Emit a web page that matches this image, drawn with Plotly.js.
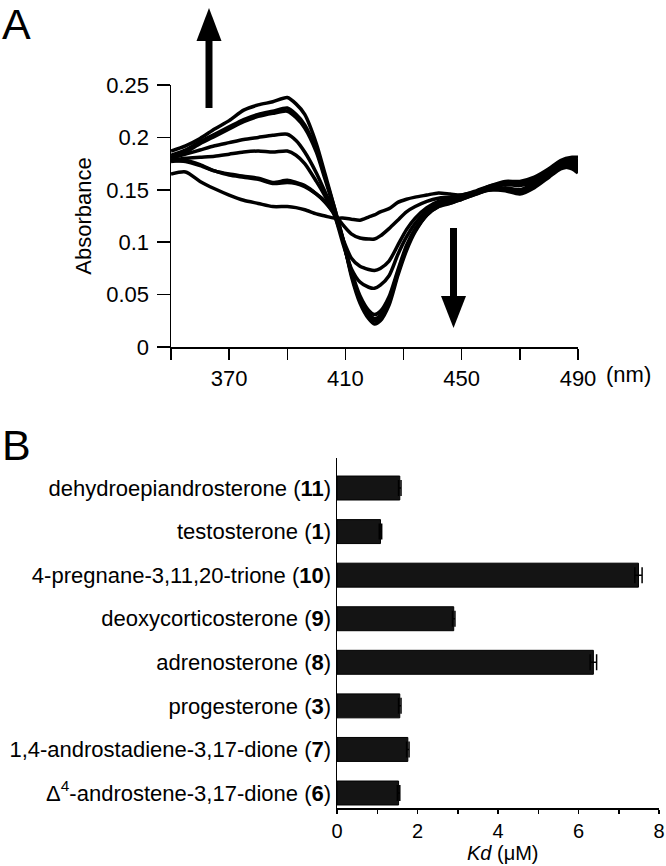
<!DOCTYPE html>
<html>
<head>
<meta charset="utf-8">
<script src="https://cdn.plot.ly/plotly-3.0.1.min.js"></script>
<style>html,body{margin:0;padding:0;background:#fff;}#chart{width:666px;height:866px;}</style>
</head>
<body>
<div id="chart"></div>
<script>
// ---- Panel A: absorbance difference spectra ----
var wavelengths = [350,355,360,365,370,375,380,385,390,393,396,400,403,406,409,412,415,418,420,422,425,428,431,434,438,442,446,450,455,460,465,470,475,480,484,488,490];

var spectrum1 = [0.187,0.192,0.199,0.208,0.216,0.226,0.231,0.234,0.238,0.232,0.222,0.194,0.165,0.135,0.105,0.068,0.042,0.027,0.022,0.025,0.040,0.068,0.092,0.110,0.126,0.135,0.139,0.143,0.148,0.154,0.158,0.158,0.162,0.170,0.178,0.181,0.181];
var spectrum2 = [0.183,0.188,0.196,0.203,0.210,0.217,0.222,0.225,0.228,0.222,0.212,0.188,0.162,0.135,0.104,0.070,0.044,0.030,0.025,0.028,0.043,0.070,0.094,0.111,0.126,0.134,0.138,0.142,0.147,0.153,0.157,0.157,0.161,0.169,0.177,0.179,0.178];
var spectrum3 = [0.181,0.186,0.194,0.201,0.208,0.215,0.220,0.223,0.225,0.219,0.209,0.186,0.160,0.133,0.103,0.071,0.046,0.032,0.027,0.030,0.045,0.071,0.095,0.112,0.126,0.134,0.137,0.141,0.146,0.152,0.156,0.156,0.160,0.168,0.176,0.178,0.176];
var spectrum4 = [0.180,0.184,0.188,0.192,0.195,0.198,0.200,0.202,0.203,0.197,0.186,0.166,0.148,0.130,0.104,0.073,0.049,0.035,0.031,0.034,0.048,0.073,0.097,0.113,0.127,0.135,0.137,0.141,0.146,0.151,0.155,0.154,0.158,0.167,0.175,0.177,0.174];
var spectrum5 = [0.178,0.180,0.181,0.182,0.184,0.186,0.187,0.186,0.187,0.183,0.175,0.158,0.144,0.128,0.100,0.075,0.062,0.057,0.056,0.059,0.068,0.088,0.105,0.118,0.130,0.137,0.140,0.143,0.147,0.150,0.152,0.150,0.156,0.165,0.174,0.176,0.172];
var spectrum6 = [0.177,0.178,0.174,0.168,0.165,0.163,0.161,0.157,0.159,0.157,0.154,0.146,0.138,0.127,0.104,0.085,0.077,0.074,0.073,0.075,0.082,0.097,0.112,0.123,0.133,0.139,0.141,0.144,0.148,0.150,0.150,0.148,0.154,0.164,0.172,0.174,0.170];
var spectrum7 = [0.178,0.177,0.173,0.168,0.164,0.162,0.160,0.156,0.157,0.156,0.153,0.146,0.139,0.128,0.117,0.108,0.104,0.103,0.103,0.106,0.113,0.121,0.129,0.134,0.139,0.142,0.143,0.145,0.148,0.150,0.149,0.146,0.152,0.162,0.170,0.172,0.168];
var spectrum8 = [0.165,0.167,0.158,0.151,0.145,0.140,0.137,0.134,0.134,0.133,0.131,0.127,0.125,0.123,0.123,0.122,0.121,0.124,0.126,0.129,0.132,0.138,0.141,0.143,0.145,0.147,0.146,0.145,0.149,0.154,0.156,0.155,0.158,0.165,0.172,0.170,0.166];

var spectra = [spectrum1,spectrum2,spectrum3,spectrum4,spectrum5,spectrum6,spectrum7,spectrum8];

// ---- Panel B: dissociation constants ----
var compounds = [
  'Δ<sup>4</sup>-androstene-3,17-dione (<b>6</b>)',
  '1,4-androstadiene-3,17-dione (<b>7</b>)',
  'progesterone (<b>3</b>)',
  'adrenosterone (<b>8</b>)',
  'deoxycorticosterone (<b>9</b>)',
  '4-pregnane-3,11,20-trione (<b>10</b>)',
  'testosterone (<b>1</b>)',
  'dehydroepiandrosterone (<b>11</b>)'
];
var kdValues = [1.53,1.76,1.56,6.37,2.90,7.49,1.08,1.56];
var kdErrors = [0.03,0.03,0.03,0.08,0.03,0.09,0.03,0.03];

// ---- build ----
var W = 666, H = 866;
function px(x){ return x / W; }
function py(y){ return 1 - y / H; }

var FONT = 'Liberation Sans, Arial, Helvetica, sans-serif';
var FS = 22;
var traces = [];
spectra.forEach(function(s){
  traces.push({
    x: wavelengths, y: s, type: 'scatter', mode: 'lines',
    line: {color: '#000', width: 3.5, shape: 'spline', smoothing: 0.7},
    xaxis: 'x', yaxis: 'y', hoverinfo: 'skip', showlegend: false
  });
});
traces.push({
  type: 'bar', orientation: 'h', x: kdValues, y: compounds,
  xaxis: 'x2', yaxis: 'y2', width: 0.55,
  marker: {color: '#141414', line: {color: '#000', width: 1}},
  error_x: {type: 'data', array: kdErrors, visible: true, color: '#000', thickness: 1.5, width: 8},
  showlegend: false
});

var arrowUp = {shaftX: 209, shaftTop: 40, shaftBottom: 108, tip: 8, half: 12.5};
var arrowDown = {shaftX: 453.5, shaftTop: 228, shaftBottom: 297, tip: 328, half: 12.5};

var shapes = [
  {type: 'rect', xref: 'paper', yref: 'paper', x0: px(arrowUp.shaftX-3.5), x1: px(arrowUp.shaftX+3.5), y0: py(arrowUp.shaftBottom), y1: py(arrowUp.shaftTop), fillcolor: '#000', line: {width: 0}},
  {type: 'path', xref: 'paper', yref: 'paper',
   path: 'M' + px(arrowUp.shaftX-arrowUp.half) + ',' + py(arrowUp.shaftTop+1) + ' L' + px(arrowUp.shaftX+arrowUp.half) + ',' + py(arrowUp.shaftTop+1) + ' L' + px(arrowUp.shaftX) + ',' + py(arrowUp.tip) + ' Z',
   fillcolor: '#000', line: {width: 0}},
  {type: 'rect', xref: 'paper', yref: 'paper', x0: px(arrowDown.shaftX-3.5), x1: px(arrowDown.shaftX+3.5), y0: py(arrowDown.shaftBottom), y1: py(arrowDown.shaftTop), fillcolor: '#000', line: {width: 0}},
  {type: 'path', xref: 'paper', yref: 'paper',
   path: 'M' + px(arrowDown.shaftX-arrowDown.half) + ',' + py(arrowDown.shaftBottom-1) + ' L' + px(arrowDown.shaftX+arrowDown.half) + ',' + py(arrowDown.shaftBottom-1) + ' L' + px(arrowDown.shaftX) + ',' + py(arrowDown.tip) + ' Z',
   fillcolor: '#000', line: {width: 0}}
];

var layout = {
  width: W, height: H,
  margin: {l: 0, r: 0, t: 0, b: 0},
  paper_bgcolor: '#fff', plot_bgcolor: 'rgba(0,0,0,0)',
  font: {family: FONT, size: FS, color: '#000'},
  showlegend: false,
  xaxis: {
    domain: [px(171), px(578)], range: [350, 490], anchor: 'y',
    tickmode: 'linear', tick0: 370, dtick: 40,
    ticks: 'outside', ticklen: 11, tickwidth: 1.5, tickcolor: '#000',
    minor: {tickmode: 'linear', tick0: 350, dtick: 20, ticks: 'outside', ticklen: 11, tickwidth: 1.5, tickcolor: '#000'},
    showline: true, linecolor: '#000', linewidth: 1.5,
    showgrid: false, zeroline: false, tickfont: {size: FS}
  },
  yaxis: {
    domain: [py(347), py(85)], range: [0, 0.25], anchor: 'x',
    tickmode: 'linear', tick0: 0, dtick: 0.05,
    ticks: 'outside', ticklen: 13, tickwidth: 1.5, tickcolor: '#000',
    showline: true, linecolor: '#000', linewidth: 1.5, ticklabelstandoff: 3,
    showgrid: false, zeroline: false, tickfont: {size: FS},
    title: {text: 'Absorbance', font: {size: FS}, standoff: 8}
  },
  xaxis2: {
    domain: [px(337), px(659)], range: [0, 8], anchor: 'y2',
    tickmode: 'linear', tick0: 0, dtick: 2,
    ticks: 'outside', ticklen: 4, tickwidth: 1.5, tickcolor: '#000',
    minor: {tickmode: 'linear', tick0: 0, dtick: 1, ticks: 'outside', ticklen: 4, tickwidth: 1.5, tickcolor: '#000'},
    showline: true, linecolor: '#000', linewidth: 1.5,
    showgrid: false, zeroline: false, tickfont: {size: 20}
  },
  yaxis2: {
    domain: [py(808), py(458)], range: [-0.344, 7.689], anchor: 'x2',
    type: 'category', categoryorder: 'array', categoryarray: compounds,
    ticks: '', showline: true, linecolor: '#000', linewidth: 1.5,
    showgrid: false, zeroline: false, tickfont: {size: FS}
  },
  annotations: [
    {text: 'A', xref: 'paper', yref: 'paper', x: px(0), y: py(24), xanchor: 'left', yanchor: 'middle', showarrow: false, font: {size: 43}},
    {text: 'B', xref: 'paper', yref: 'paper', x: px(0), y: py(445), xanchor: 'left', yanchor: 'middle', showarrow: false, font: {size: 43}},
    {text: '(nm)', xref: 'paper', yref: 'paper', x: px(628), y: py(375), xanchor: 'center', yanchor: 'middle', showarrow: false, font: {size: FS}},
    {text: '<i>Kd</i> (μM)', xref: 'paper', yref: 'paper', x: px(503), y: py(866), xanchor: 'center', yanchor: 'bottom', showarrow: false, font: {size: 20}}
  ],
  shapes: shapes
};

Plotly.newPlot('chart', traces, layout, {displayModeBar: false, staticPlot: true});
</script>
</body>
</html>
